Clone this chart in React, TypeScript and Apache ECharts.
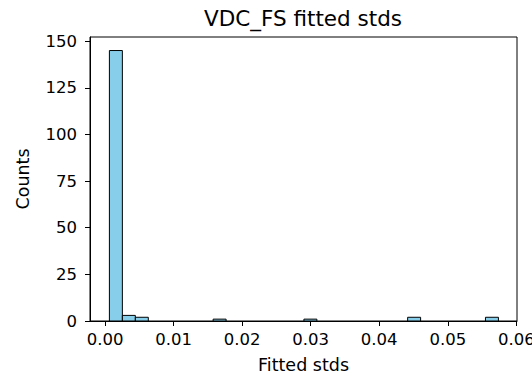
import React, { useEffect, useRef } from "react";
import * as echarts from "echarts";

const titleText = "VDC_FS fitted stds";
const xAxisName = "Fitted stds";
const yAxisName = "Counts";
const binStart = 0.00063;
const binWidth = 0.001892;
const counts = [145, 3, 2, 0, 0, 0, 0, 0, 1, 0, 0, 0, 0, 0, 0, 1, 0, 0, 0, 0, 0, 0, 0, 2, 0, 0, 0, 0, 0, 2];
const xTicks = [0, 0.01, 0.02, 0.03, 0.04, 0.05, 0.06];
const yTicks = [0, 25, 50, 75, 100, 125, 150];

const FONT = "DejaVu Sans";

export default function App() {
  const ref = useRef<HTMLDivElement>(null);
  useEffect(() => {
    if (!ref.current) return;
    const chart = echarts.init(ref.current, null, { renderer: "svg" });
    const bins = counts
      .map((c, i) => [binStart + i * binWidth, binStart + (i + 1) * binWidth, c])
      .filter((d) => d[2] > 0);
    chart.setOption({
      animation: false,
      backgroundColor: "#ffffff",
      textStyle: { fontFamily: FONT },
      grid: {
        left: 90,
        top: 37,
        width: 427,
        height: 284,
        show: true,
        borderColor: "#000",
        borderWidth: 1,
        backgroundColor: "transparent",
        containLabel: false,
        outerBoundsMode: "none",
      },
      graphic: [
        {
          type: "text",
          x: 303,
          y: 18,
          style: {
            text: titleText,
            font: `21.5px '${FONT}'`,
            fill: "#000",
            align: "center",
            verticalAlign: "middle",
          },
        },
      ],
      xAxis: {
        type: "value",
        min: -0.0022,
        max: 0.0601,
        name: xAxisName,
        nameLocation: "middle",
        nameGap: 35,
        nameTextStyle: { fontSize: 17.5, color: "#000", fontFamily: FONT },
        axisLine: { show: true, onZero: false, lineStyle: { color: "#000", width: 1 } },
        axisTick: {
          show: true,
          length: 5,
          inside: false,
          customValues: xTicks,
          lineStyle: { color: "#000", width: 1 },
        },
        axisLabel: {
          customValues: xTicks,
          formatter: (v: number) => v.toFixed(2),
          fontSize: 16.5,
          color: "#000",
          margin: 10,
          fontFamily: FONT,
        },
        splitLine: { show: false },
      },
      yAxis: {
        type: "value",
        min: 0,
        max: 152.25,
        name: yAxisName,
        nameLocation: "middle",
        nameGap: 58,
        nameTextStyle: { fontSize: 17.5, color: "#000", fontFamily: FONT },
        axisLine: { show: true, onZero: false, lineStyle: { color: "#000", width: 1 } },
        axisTick: {
          show: true,
          length: 5,
          inside: false,
          customValues: yTicks,
          lineStyle: { color: "#000", width: 1 },
        },
        axisLabel: {
          customValues: yTicks,
          fontSize: 16.5,
          color: "#000",
          margin: 13,
          fontFamily: FONT,
        },
        splitLine: { show: false },
      },
      series: [
        {
          type: "custom",
          data: bins,
          renderItem: (params: any, api: any) => {
            const p0 = api.coord([api.value(0), 0]);
            const p1 = api.coord([api.value(1), api.value(2)]);
            return {
              type: "rect",
              shape: {
                x: p0[0],
                y: p1[1],
                width: p1[0] - p0[0],
                height: p0[1] - p1[1],
              },
              style: { fill: "#87CEEB", stroke: "#000", lineWidth: 1 },
            };
          },
        },
      ],
    });
    return () => chart.dispose();
  }, []);
  return (
    <div
      ref={ref}
      style={{ position: "fixed", left: 0, top: 0, width: 532, height: 377 }}
    />
  );
}
